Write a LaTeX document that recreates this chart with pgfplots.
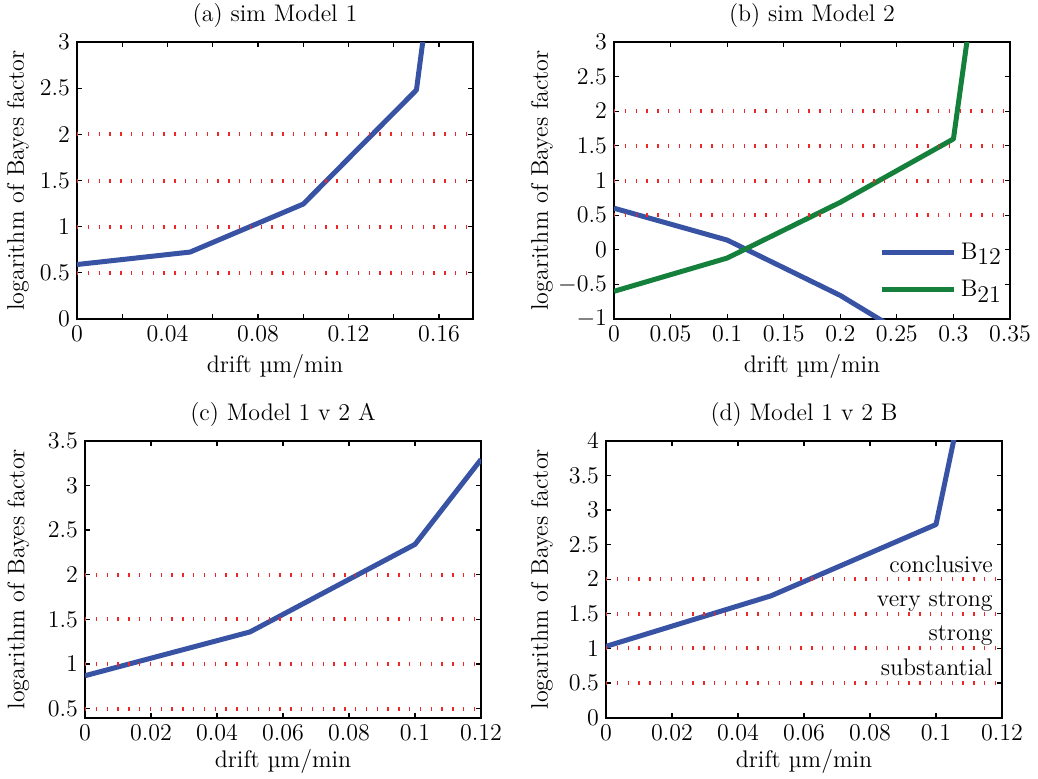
\documentclass[border=0pt]{standalone}
\usepackage{fontspec}
\usepackage{pgfplots}
\pgfplotsset{compat=1.18}
\definecolor{mblue}{RGB}{56,82,164}
\definecolor{mgreen}{RGB}{20,128,60}
\definecolor{mred}{RGB}{238,40,40}
\newcommand{\fs}{\fontsize{12}{14}\selectfont}
\pgfplotsset{
  bf/.style={
    scale only axis, width=198pt, height=138.5pt,
    axis line style={line width=0.8pt},
    every tick/.style={black, line width=0.6pt},
    tick align=inside, major tick length=2.5pt, minor tick length=2.5pt,
    xtick pos=both, ytick pos=both,
    scaled x ticks=false, scaled y ticks=false,
    tick label style={font=\fs},
    label style={font=\fs},
    xticklabel style={/pgf/number format/.cd, fixed, precision=2},
    yticklabel style={/pgf/number format/.cd, fixed, precision=2},
    xlabel={drift µm/min},
    ylabel={logarithm of Bayes factor},
    every axis title shift=0pt,
    title style={at={(axis description cs:0.5,1.095)}, anchor=center, yshift=0pt, font=\fs},
    anchor=south west,
  },
  dat/.style={line width=2.5pt, line join=round},
  rdot/.style={mred, line width=2pt, dash pattern=on 0.7pt off 4.7pt, forget plot},
}
\begin{document}
\begin{tikzpicture}[font=\fs]
\useasboundingbox (0,0) rectangle (519pt,389pt);
% (a)
\begin{axis}[bf, at={(38.5pt,229.5pt)},
  title={(a) sim Model 1},
  xmin=0, xmax=0.175, ymin=0, ymax=3,
  xtick={0,0.04,0.08,0.12,0.16}, minor xtick={0.02,0.06,0.1,0.14},
  ytick={0,0.5,1,1.5,2,2.5,3},
  ylabel style={at={(axis description cs:-0.149,0.5)}, anchor=center},
  xlabel style={at={(axis description cs:0.5,-0.173)}, anchor=center}]
\addplot[dat, mblue] coordinates {(0,0.59) (0.05,0.725) (0.1,1.245) (0.15,2.48) (0.2,11.8)};
\addplot[rdot] coordinates {(0,0.5) (0.175,0.5)};
\addplot[rdot] coordinates {(0,1) (0.175,1)};
\addplot[rdot] coordinates {(0,1.5) (0.175,1.5)};
\addplot[rdot] coordinates {(0,2) (0.175,2)};
\end{axis}
% (b)
\begin{axis}[bf, at={(307pt,229.5pt)},
  title={(b) sim Model 2},
  xmin=0, xmax=0.35, ymin=-1, ymax=3,
  xtick={0,0.05,0.1,0.15,0.2,0.25,0.3,0.35},
  ytick={-1,-0.5,0,0.5,1,1.5,2,2.5,3},
  ylabel style={at={(axis description cs:-0.182,0.5)}, anchor=center},
  xlabel style={at={(axis description cs:0.5,-0.173)}, anchor=center},
  legend style={draw=none, fill=none, font=\fs, at={(axis description cs:0.655,0.173)}, anchor=west, row sep=5pt, cells={anchor=west}},
  legend image code/.code={\draw[#1] (0pt,0pt) -- (36pt,0pt);}]
\addplot[dat, mblue] coordinates {(0,0.6) (0.1,0.14) (0.2,-0.66) (0.3,-1.65)};
\addplot[dat, mgreen] coordinates {(0,-0.6) (0.1,-0.12) (0.2,0.685) (0.3,1.6) (0.35,7.48)};
\addplot[rdot] coordinates {(0,0.5) (0.35,0.5)};
\addplot[rdot] coordinates {(0,1) (0.35,1)};
\addplot[rdot] coordinates {(0,1.5) (0.35,1.5)};
\addplot[rdot] coordinates {(0,2) (0.35,2)};
\legend{B\raisebox{-0.55ex}{12}, B\raisebox{-0.55ex}{21}}
\end{axis}
% (c)
\begin{axis}[bf, at={(42.5pt,30.15pt)},
  title={(c) Model 1 v 2 A},
  xmin=0, xmax=0.12, ymin=0.4, ymax=3.5,
  xtick={0,0.02,0.04,0.06,0.08,0.1,0.12},
  ytick={0.5,1,1.5,2,2.5,3,3.5},
  ylabel style={at={(axis description cs:-0.168,0.5)}, anchor=center},
  xlabel style={at={(axis description cs:0.5,-0.159)}, anchor=center}]
\addplot[dat, mblue] coordinates {(0,0.87) (0.05,1.36) (0.1,2.34) (0.12,3.29)};
\addplot[rdot] coordinates {(0,0.5) (0.12,0.5)};
\addplot[rdot] coordinates {(0,1) (0.12,1)};
\addplot[rdot] coordinates {(0,1.5) (0.12,1.5)};
\addplot[rdot] coordinates {(0,2) (0.12,2)};
\end{axis}
% (d)
\begin{axis}[bf, at={(303pt,30.15pt)},
  title={(d) Model 1 v 2 B},
  xmin=0, xmax=0.12, ymin=0, ymax=4,
  xtick={0,0.02,0.04,0.06,0.08,0.1,0.12},
  ytick={0,0.5,1,1.5,2,2.5,3,3.5,4},
  ylabel style={at={(axis description cs:-0.162,0.5)}, anchor=center},
  xlabel style={at={(axis description cs:0.5,-0.159)}, anchor=center}]
\addplot[dat, mblue] coordinates {(0,1.03) (0.05,1.76) (0.1,2.79) (0.15,14.1)};
\addplot[rdot] coordinates {(0,0.5) (0.12,0.5)};
\addplot[rdot] coordinates {(0,1) (0.12,1)};
\addplot[rdot] coordinates {(0,1.5) (0.12,1.5)};
\addplot[rdot] coordinates {(0,2) (0.12,2)};
\node[anchor=base east, inner sep=0pt, font=\fs] at (axis cs:0.1173,2.09) {conclusive};
\node[anchor=base east, inner sep=0pt, font=\fs] at (axis cs:0.1173,1.60) {very strong};
\node[anchor=base east, inner sep=0pt, font=\fs] at (axis cs:0.1173,1.11) {strong};
\node[anchor=base east, inner sep=0pt, font=\fs] at (axis cs:0.1173,0.61) {substantial};
\end{axis}
\end{tikzpicture}
\end{document}
